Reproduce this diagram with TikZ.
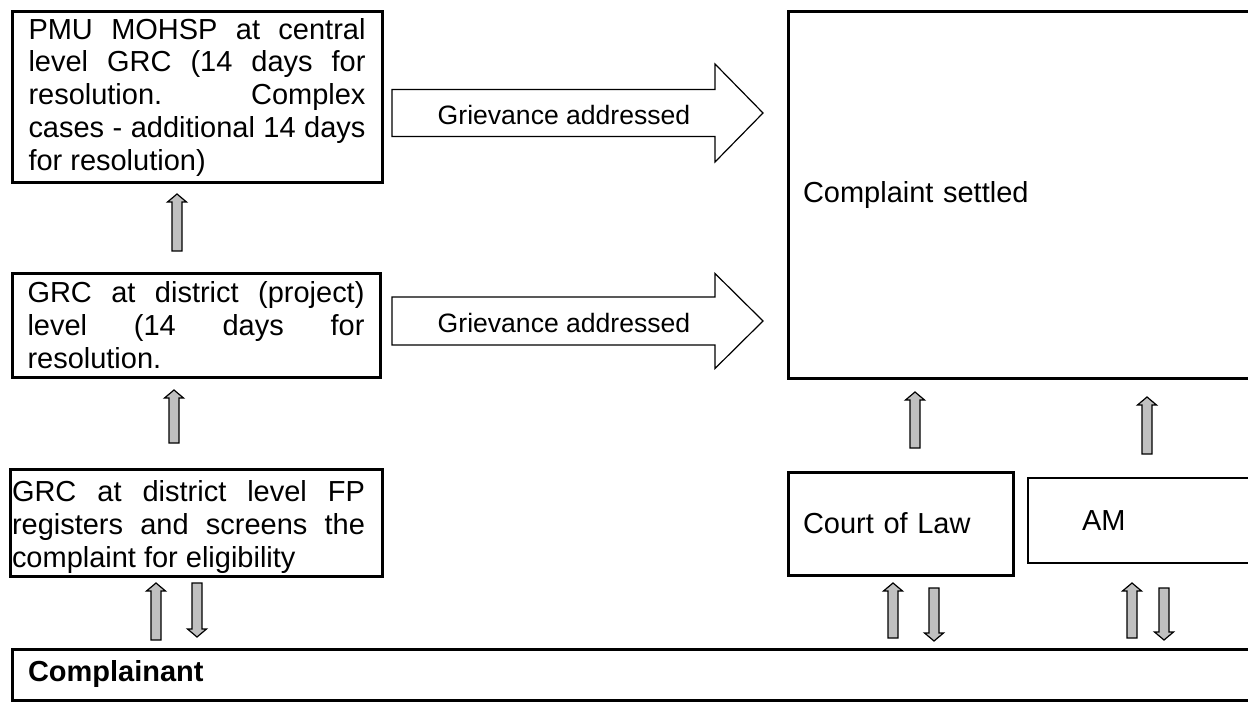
\documentclass[tikz,border=0pt]{standalone}
\usepackage{fontspec}
\setmainfont{Liberation Sans}
\usepackage{tikz}
\usetikzlibrary{calc}
\definecolor{flechegris}{HTML}{C0C0C0}
\newlength{\px}
\setlength{\px}{0.414pt}
\tikzset{etape/.style={
    draw=black,
    line width=3\px,
    inner ysep=0pt,
    align=justify,
    font={\fontsize{12}{13.66}\selectfont\hyphenpenalty=10000\exhyphenpenalty=10000\tolerance=10000}}}
\tikzset{issue/.style={
    draw=black,
    line width=3\px,
    inner ysep=0pt,
    align=left,
    font=\fontsize{12}{13.66}\selectfont}}
\tikzset{plaignant/.style={
    issue}}
\tikzset{traite/.style={
    draw=black,
    line width=1.2\px,
    line join=miter}}
\tikzset{etiquette/.style={
    inner sep=0pt,
    font=\fontsize{11}{13}\selectfont}}
\tikzset{fleche/.style={
    fill=flechegris,
    draw=black,
    line width=1.2\px,
    line join=miter}}
% fleche grise vers le haut : x, pointe, queue
\newcommand{\flechehaut}[3]{%
  \filldraw[fleche] (#1-5,#3) -- (#1-5,#2+8) -- (#1-9.5,#2+8) -- (#1,#2)
    -- (#1+9.5,#2+8) -- (#1+5,#2+8) -- (#1+5,#3) -- cycle;}
% fleche grise vers le bas : x, queue, pointe
\newcommand{\flechebas}[3]{%
  \filldraw[fleche] (#1-5,#2) -- (#1-5,#3-8) -- (#1-9.5,#3-8) -- (#1,#3)
    -- (#1+9.5,#3-8) -- (#1+5,#3-8) -- (#1+5,#2) -- cycle;}
% grande fleche : nom, centre y, demi-corps, demi-tete
\newcommand{\grandefleche}[4]{%
  \draw[traite] (392,#2-#3) -- (715,#2-#3) -- (715,#2-#4) -- (763,#2)
    -- (715,#2+#4) -- (715,#2+#3) -- (392,#2+#3) -- cycle;
  \node[etiquette] (#1) at (564,#2+2) {Grievance addressed};}

\begin{document}
\begin{tikzpicture}[x=\px,y=-\px]
\useasboundingbox (0,0) rectangle (1248,702);
\clip (0,0) rectangle (1248,702);

\node[etape, minimum width=370\px, minimum height=171\px, text width=337\px, inner xsep=16.5\px] (central) at (197,97.5)
  {PMU MOHSP at central\linebreak level GRC (14 days for\linebreak resolution. Complex\linebreak cases - additional 14 days\linebreak for resolution)};
\node[etape, minimum width=368\px, minimum height=103\px, text width=337\px, inner xsep=15.5\px] (district) at (196,325.5)
  {GRC at district (project)\linebreak level (14 days for\linebreak resolution.};
\node[etape, draw=none, minimum height=104\px, text width=353\px, inner xsep=0pt] (focal) at (188.5,527)
  {GRC at district level FP\linebreak registers and screens the\linebreak complaint for eligibility};
\draw[line width=3\px] ([yshift=4\px]focal.north west) rectangle ([xshift=16\px,yshift=4\px]focal.south east);

\node[issue, minimum width=472\px, minimum height=366\px, text width=442\px, inner xsep=15\px] (settled) at (1024,195) {Complaint settled};
\node[issue, minimum width=225\px, minimum height=103\px, text width=195\px, inner xsep=15\px] (court) at (900.5,523.5) {Court of Law};
\node[issue, line width=2\px, minimum width=232\px, minimum height=85\px, text width=124\px, inner xsep=54\px] (am) at (1144,520.5) {AM};
\node[plaignant, minimum width=1248\px, minimum height=51\px, text width=1216\px, inner xsep=16\px] (plaint) at (636,674.5) {\textbf{Complainant}};

\grandefleche{addr1}{113}{23.5}{49}
\grandefleche{addr2}{321}{24}{47.5}

\flechehaut{177}{194}{251}
\flechehaut{174}{390}{443}
\flechehaut{156}{583}{640}
\flechebas{197}{583}{637}

\flechehaut{915}{392}{448}
\flechehaut{1147}{397}{454}
\flechehaut{893}{583}{638}
\flechebas{934}{588}{641}
\flechehaut{1132}{583}{638}
\flechebas{1164}{588}{640}
\end{tikzpicture}
\end{document}
